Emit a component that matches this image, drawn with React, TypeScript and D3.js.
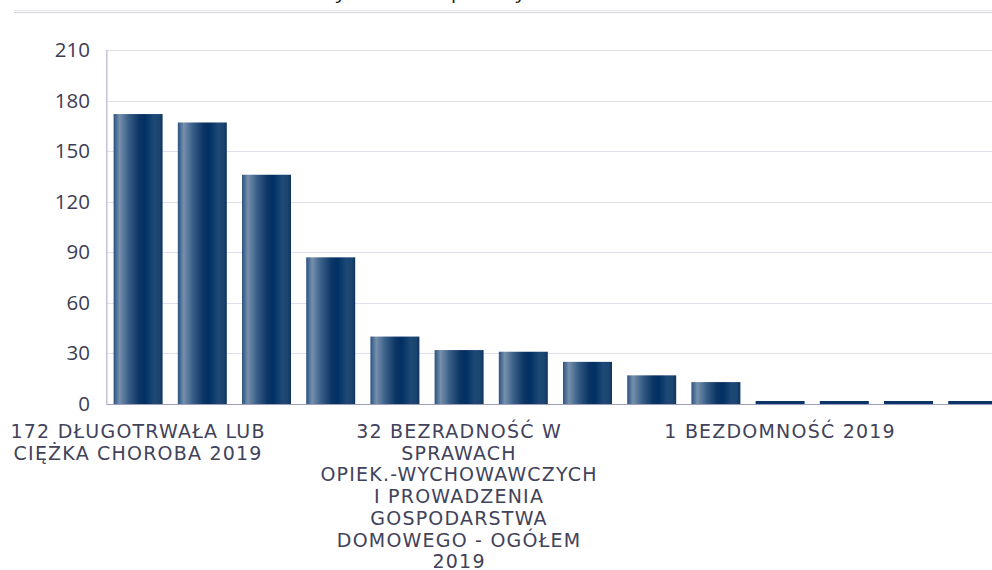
import React, { useEffect, useRef } from "react";
import * as d3 from "d3";

// chart data
const categories = [
  "DŁUGOTRWAŁA LUB CIĘŻKA CHOROBA",
  "NIEPEŁNOSPRAWNOŚĆ",
  "UBÓSTWO",
  "BEZROBOCIE",
  "POTRZEBA OCHRONY MACIERZYŃSTWA",
  "BEZRADNOŚĆ W SPRAWACH OPIEK.-WYCHOWAWCZYCH I PROWADZENIA GOSPODARSTWA DOMOWEGO - OGÓŁEM",
  "ALKOHOLIZM",
  "PRZEMOC W RODZINIE",
  "TRUDNOŚCI W PRZYSTOSOWANIU DO ŻYCIA PO ZWOLNIENIU Z ZAKŁADU KARNEGO",
  "WIELODZIETNOŚĆ",
  "BEZDOMNOŚĆ",
  "NARKOMANIA",
  "ZDARZENIE LOSOWE",
  "SYTUACJA KRYZYSOWA",
];
const values = [172, 167, 136, 87, 40, 32, 31, 25, 17, 13, 1, 1, 1, 1];
const year = "2019";
const yTicks = [0, 30, 60, 90, 120, 150, 180, 210];
const title = "Powody udzielania pomocy w 2019 r.";

function App() {
  const canvas = useRef<SVGSVGElement>(null);

  useEffect(() => {
    const width = 992;
    const left = 106;
    const base = 404;
    const top = 50;
    const step = 64.2;

    const svg = d3.select(canvas.current);
    svg.selectAll("*").remove();

    const y = d3.scaleLinear().domain([0, 210]).range([base, top]);
    const x = d3
      .scaleBand<number>()
      .domain(d3.range(values.length))
      .range([left, left + step * values.length])
      .paddingInner(0.237)
      .paddingOuter(0.1185);

    const grad = svg
      .append("defs")
      .append("linearGradient")
      .attr("id", "barGrad")
      .attr("x1", 0)
      .attr("x2", 1)
      .attr("y1", 0)
      .attr("y2", 0);
    const stops: [number, string][] = [
      [0, "#2b5280"],
      [0.12, "#7690ad"],
      [0.3, "#3a6089"],
      [0.52, "#0c3565"],
      [0.64, "#003063"],
      [0.82, "#1e4876"],
      [0.93, "#1b446f"],
      [1, "#0d345f"],
    ];
    grad
      .selectAll("stop")
      .data(stops)
      .enter()
      .append("stop")
      .attr("offset", (d) => d[0])
      .attr("stop-color", (d) => d[1]);

    // top border
    svg.append("line").attr("x1", 14).attr("x2", width).attr("y1", 10.5).attr("y2", 10.5).attr("stroke", "#e6e6f0");
    svg.append("line").attr("x1", 14).attr("x2", width).attr("y1", 12.5).attr("y2", 12.5).attr("stroke", "#d6d6e4");

    // title sits above the visible area, only descenders peek in
    svg
      .append("text")
      .attr("x", 272)
      .attr("y", -2.5)
      .style("font-family", "'Open Sans', sans-serif")
      .style("font-size", "20px")
      .attr("fill", "#222")
      .text(title);

    // gridlines
    svg
      .append("g")
      .selectAll("line")
      .data(yTicks.filter((t) => t > 0))
      .enter()
      .append("line")
      .attr("x1", left)
      .attr("x2", width)
      .attr("y1", (d) => Math.round(y(d)) + 0.5)
      .attr("y2", (d) => Math.round(y(d)) + 0.5)
      .attr("stroke", "#e0dfec");

    const yAxis = svg
      .append("g")
      .attr("transform", `translate(${left},0)`)
      .call(d3.axisLeft(y).tickValues(yTicks).tickSize(0).tickPadding(16));
    yAxis.select(".domain").remove();
    yAxis
      .selectAll("text")
      .style("font-family", "'Open Sans', sans-serif")
      .style("font-size", "20.5px")
      .attr("fill", "#3c3d56");

    svg
      .append("g")
      .selectAll("rect")
      .data(values)
      .enter()
      .append("rect")
      .attr("x", (_, i) => x(i) as number)
      .attr("width", x.bandwidth())
      .attr("y", (d) => Math.min(y(d), base - 3))
      .attr("height", (d) => Math.max(base - y(d), 3))
      .attr("fill", (d) => (base - y(d) < 4 ? "#0a3566" : "url(#barGrad)"));

    svg.append("line").attr("x1", left).attr("x2", width).attr("y1", base + 0.5).attr("y2", base + 0.5).attr("stroke", "#9d9dbd");
    svg.append("line").attr("x1", left + 0.75).attr("x2", left + 0.75).attr("y1", top).attr("y2", base + 1).attr("stroke", "#c2c2d8").attr("stroke-width", 1.5);

    // category labels, every fifth one
    const labels = svg
      .append("g")
      .selectAll("text")
      .data(values.map((v, i) => ({ v, i })).filter((d) => d.i % 5 === 0))
      .enter()
      .append("text")
      .attr("x", (d) => (x(d.i) as number) + x.bandwidth() / 2)
      .attr("y", 438)
      .attr("text-anchor", "middle")
      .style("font-family", "'DejaVu Sans', sans-serif")
      .style("font-size", "19px")
      .style("letter-spacing", "1.2px")
      .attr("fill", "#41425b")
      .text((d) => `${d.v} ${categories[d.i]} ${year}`);

    labels.each(function () {
      const text = d3.select(this);
      const words = text.text().split(" ");
      const cx = text.attr("x");
      text.text(null);
      let line: string[] = [];
      let tspan = text.append("tspan").attr("x", cx).attr("dy", 0);
      words.forEach((w) => {
        line.push(w);
        tspan.text(line.join(" "));
        if ((tspan.node() as SVGTSpanElement).getComputedTextLength() > 290 && line.length > 1) {
          line.pop();
          tspan.text(line.join(" "));
          line = [w];
          tspan = text.append("tspan").attr("x", cx).attr("dy", "21.7px").text(w);
        }
      });
    });
  }, []);

  return (
    <svg
      ref={canvas}
      width={992}
      height={570}
      style={{ position: "absolute", left: 0, top: 0, background: "#fff" }}
    />
  );
}

export default App;
